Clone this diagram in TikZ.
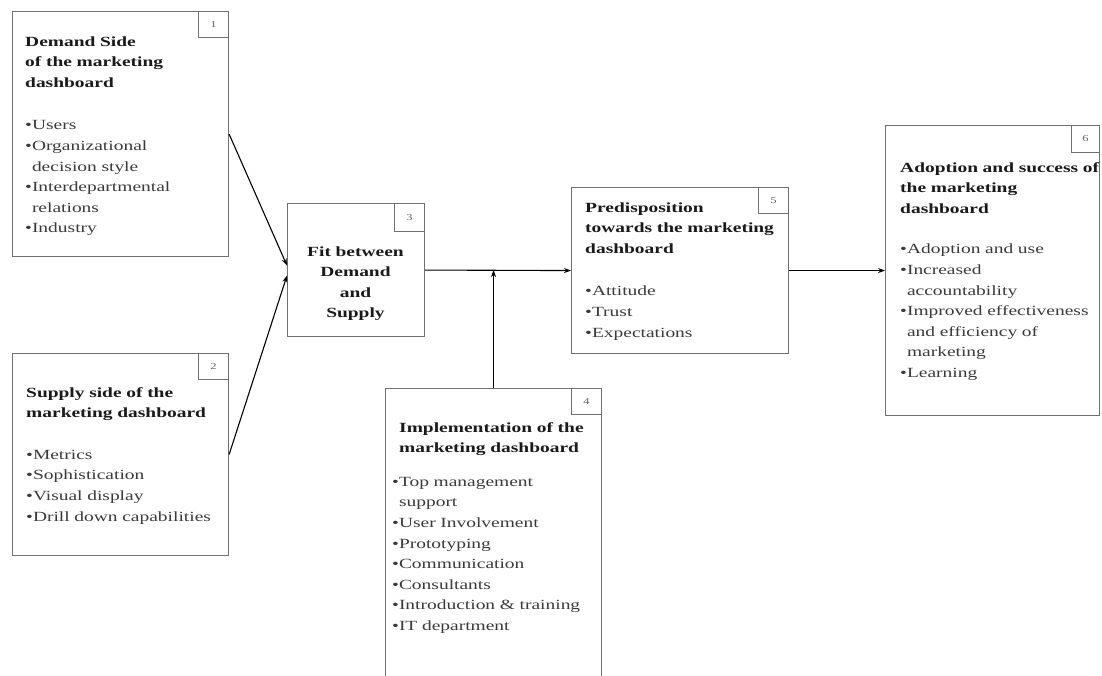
\documentclass[tikz,border=0pt]{standalone}
\usepackage{fontspec}
\setmainfont{Liberation Serif}[FakeStretch=1.39]
\usetikzlibrary{arrows.meta,calc}
\definecolor{boxgray}{HTML}{707070}
\definecolor{bodygray}{HTML}{3A3A3A}
\definecolor{titlegray}{HTML}{1A1A1A}
\definecolor{numgray}{HTML}{666666}
\newcommand\bu{•}
\newcommand\ind{\hphantom{•}}
\newcommand\ttl[1]{{\color{titlegray}\bfseries #1}}
\begin{document}
\begin{tikzpicture}[x=1pt,y=-1pt,
  box/.style={draw=boxgray, line width=1.1pt, rectangle, inner sep=0, anchor=north west},
  numbox/.style={draw=boxgray, line width=1pt, rectangle, inner sep=0, anchor=north east,
    minimum width=30, minimum height=26, font=\fontsize{9}{10}\selectfont, text=numgray},
  txt/.style={inner sep=0, anchor=base west, align=left, text width=260,
    font=\fontsize{14}{20.6}\selectfont, text=bodygray},
  arr/.style={draw=black, line width=1.1pt, -{Stealth[length=7pt,width=5pt]}}
]
\useasboundingbox (0,0) rectangle (1102,675);
\fill[white] (0,0) rectangle (1102,675);

% boxes
\node[box, minimum width=216, minimum height=245] (b1) at (12,11) {};
\node[box, minimum width=216, minimum height=202] (b2) at (12,353) {};
\node[box, minimum width=137, minimum height=133] (b3) at (287,203) {};
\node[box, minimum width=216, minimum height=300] (b4) at (385,388) {};
\node[box, minimum width=217, minimum height=166] (b5) at (571,187) {};
\node[box, minimum width=214, minimum height=290] (b6) at (885,125) {};

% number tags
\node[numbox] (n1) at (b1.north east) {1};
\node[numbox] (n2) at (b2.north east) {2};
\node[numbox, minimum height=28] (n3) at (b3.north east) {3};
\node[numbox] (n4) at (b4.north east) {4};
\node[numbox] (n5) at (b5.north east) {5};
\node[numbox, minimum width=28, minimum height=27] (n6) at (b6.north east) {6};

% texts
\node[txt] (t1) at (25,46) {\ttl{Demand Side}\\\ttl{of the marketing}\\\ttl{dashboard}\\[22pt]
  \bu Users\\\bu Organizational\\\ind decision style\\\bu Interdepartmental\\\ind relations\\\bu Industry};
\node[txt] (t2) at (26,397) {\ttl{Supply side of the}\\\ttl{marketing dashboard}\\[21pt]
  \bu Metrics\\\bu Sophistication\\\bu Visual display\\\bu Drill down capabilities};
\node[txt, align=center, text width=137, anchor=base] (t3) at (355.5,256)
  {\ttl{Fit between}\\\ttl{Demand}\\\ttl{and}\\\ttl{Supply}};
\node[txt] (t4) at (392,432) {\hspace*{7pt}\ttl{Implementation of the}\\\hspace*{7pt}\ttl{marketing dashboard}\\[13pt]
  \bu Top management\\\ind support\\\bu User Involvement\\\bu Prototyping\\\bu Communication\\\bu Consultants\\\bu Introduction \& training\\\bu IT department};
\node[txt] (t5) at (585,212) {\ttl{Predisposition}\\\ttl{towards the marketing}\\\ttl{dashboard}\\[22pt]
  \bu Attitude\\\bu Trust\\\bu Expectations};
\node[txt] (t6) at (900,172) {\ttl{Adoption and success of}\\\ttl{the marketing}\\\ttl{dashboard}\\[20pt]
  \bu Adoption and use\\\bu Increased\\\ind accountability\\\bu Improved effectiveness\\\ind and efficiency of\\\ind marketing\\\bu Learning};

% connectors
\coordinate (j) at (b4.north |- b3.east);
\draw[arr] (b1.east) -- ($(b3.west)+(0,-4.5)$);
\draw[arr] (b2.east) -- ($(b3.west)+(0,5.5)$);
\draw[arr] (b3.east) -- (b5.west);
\draw[arr] (b4.north) -- (j);
\draw[arr] (b5.east) -- (b6.west);
\end{tikzpicture}
\end{document}
